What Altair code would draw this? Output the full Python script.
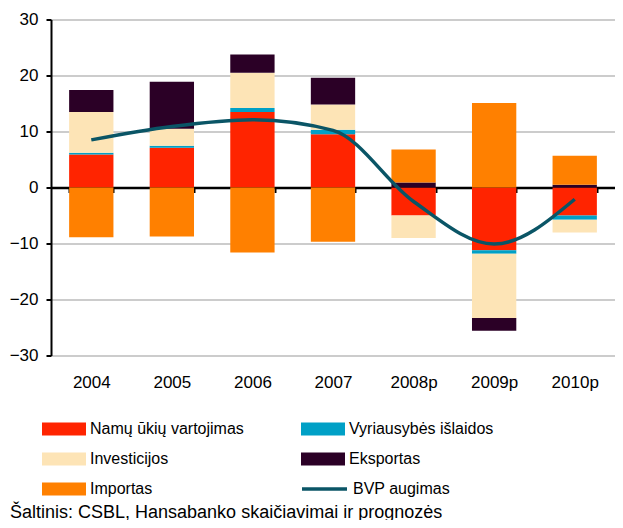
import altair as alt
import pandas as pd

FONT = "Liberation Sans"

years = ["2004", "2005", "2006", "2007", "2008p", "2009p", "2010p"]
series = ["Namų ūkių vartojimas", "Vyriausybės išlaidos", "Investicijos", "Eksportas", "Importas"]
namu = [5.9, 7.1, 13.5, 9.5, -5.0, -11.2, -5.0]
vyr = [0.3, 0.35, 0.7, 0.8, 0.0, -0.65, -0.75]
inv = [7.3, 3.05, 6.3, 4.5, -4.0, -11.45, -2.3]
eks = [3.9, 8.4, 3.25, 4.8, 0.9, -2.3, 0.5]
imp = [-8.9, -8.75, -11.6, -9.7, 5.9, 15.1, 5.15]
bvp = [8.5, 10.9, 12.1, 10.2, -2.5, -10.1, -2.1]
line_name = "BVP augimas"
colors = ["#FF2400", "#00A0C6", "#FDE4B6", "#2B0026", "#FF8000"]
line_color = "#0A5566"
source = "Šaltinis: CSBL, Hansabanko skaičiavimai ir prognozės"

rows = []
for idx, (name, vals) in enumerate(zip(series, [namu, vyr, inv, eks, imp])):
    for yr, v in zip(years, vals):
        rows.append({"year": yr, "series": name, "value": v, "idx": idx})
df = pd.DataFrame(rows)
line_df = pd.DataFrame({"year": years, "value": bvp, "name": [line_name] * len(years)})
src_df = pd.DataFrame({"t": [source]})

W, H = 564, 336

xscale = alt.Scale(domain=years, paddingInner=0.45, paddingOuter=0.225)
yscale = alt.Scale(domain=[-30, 30], nice=False)

xaxis = alt.Axis(title=None, orient="bottom", offset=-H / 2, domainColor="black", domainWidth=2.5,
                 tickColor="black", tickWidth=2, tickSize=5, tickBand="extent",
                 labelFont=FONT, labelFontSize=17, labelColor="black", labelPadding=182,
                 labelAngle=0, grid=False)
yaxis = alt.Axis(title=None, values=[-30, -20, -10, 0, 10, 20, 30], domainColor="black",
                 domainWidth=2, tickColor="black", tickWidth=2, tickSize=5, labelPadding=8,
                 labelFont=FONT, labelFontSize=17, labelColor="black", grid=True,
                 gridColor="#999999", gridWidth=1.2)

bars = alt.Chart(df).mark_bar().encode(
    x=alt.X("year:N", scale=xscale, axis=xaxis, sort=years),
    y=alt.Y("value:Q", scale=yscale, axis=yaxis, stack="zero"),
    order=alt.Order("idx:Q", sort="ascending"),
    color=alt.Color("series:N", scale=alt.Scale(domain=series, range=colors),
                    legend=alt.Legend(title=None, orient="none", legendX=-9, legendY=387.5,
                                      direction="horizontal",
                                      columns=2, columnPadding=57, rowPadding=0,
                                      symbolType="M-1,-0.3H1V0.3H-1Z", symbolSize=1936,
                                      symbolStrokeWidth=0, symbolOpacity=1,
                                      labelFont=FONT, labelFontSize=16, labelColor="black",
                                      labelOffset=4, labelLimit=300)),
)

line = alt.Chart(line_df).mark_line(interpolate="monotone", strokeWidth=3.5).encode(
    x=alt.X("year:N", scale=xscale, axis=xaxis, sort=years),
    y=alt.Y("value:Q", scale=yscale, axis=yaxis),
    stroke=alt.Stroke("name:N", scale=alt.Scale(domain=[line_name], range=[line_color]),
                      legend=alt.Legend(title=None, orient="none", legendX=249, legendY=445,
                                        symbolType="stroke", symbolSize=2025,
                                        symbolStrokeWidth=3.5,
                                        labelFont=FONT, labelFontSize=16, labelColor="black",
                                        labelOffset=4)),
)

src = alt.Chart(src_df).mark_text(font=FONT, fontSize=18, align="left", baseline="alphabetic",
                                  color="black").encode(
    text="t:N", x=alt.value(-41), y=alt.value(498))

chart = alt.layer(bars, line, src).resolve_scale(color="independent").properties(
    width=W, height=H,
    autosize=alt.AutoSizeParams(type="none"),
    padding={"left": 43, "top": 11.5, "right": 0, "bottom": 164.5},
    background="white",
).configure_view(stroke=None)

chart.save("out.html", embed_options={"renderer": "svg", "actions": False})
